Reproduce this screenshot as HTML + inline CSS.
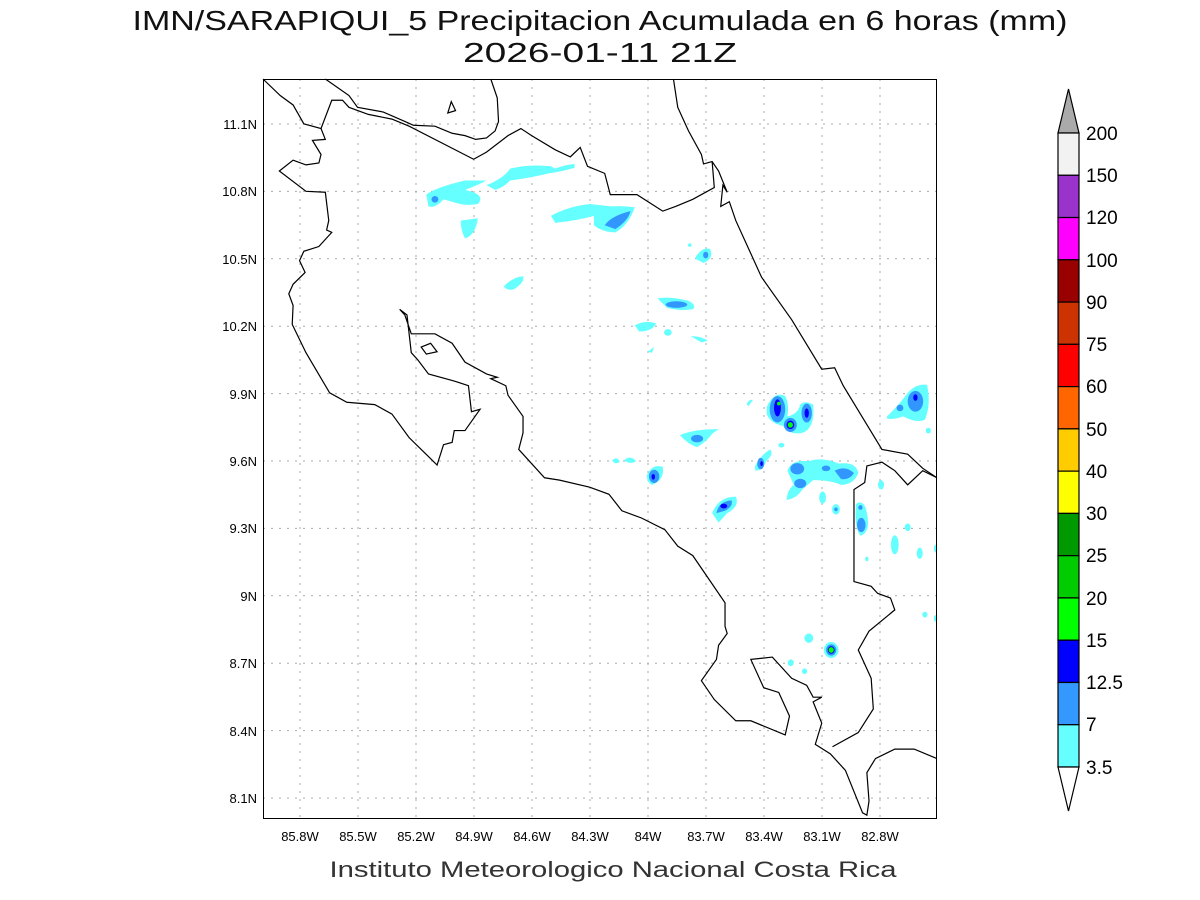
<!DOCTYPE html>
<html><head><style>html,body{margin:0;padding:0;background:#fff}svg{display:block}</style></head><body>
<svg width="1200" height="900" viewBox="0 0 1200 900" xmlns="http://www.w3.org/2000/svg" font-family="Liberation Sans, sans-serif">
<rect width="1200" height="900" fill="#fff"/>
<text x="600" y="30" font-size="28" text-anchor="middle" fill="#111" textLength="935" lengthAdjust="spacingAndGlyphs">IMN/SARAPIQUI_5 Precipitacion Acumulada en 6 horas (mm)</text>
<text x="600" y="62" font-size="28" text-anchor="middle" fill="#111" textLength="274" lengthAdjust="spacingAndGlyphs">2026-01-11 21Z</text>
<g stroke="#aaa" stroke-width="1" stroke-dasharray="2,6">
<path d="M300 79V819M358 79V819M416 79V819M474 79V819M532 79V819M590 79V819M648 79V819M706 79V819M764 79V819M822 79V819M880 79V819"/>
<path d="M263 124H937M263 191.4H937M263 258.8H937M263 326.2H937M263 393.6H937M263 461H937M263 528.4H937M263 595.8H937M263 663.2H937M263 730.6H937M263 798H937"/>
</g>
<g transform="translate(263,79) scale(0.4298,0.4719)">
<g fill="#66ffff">
<path d="M380 245 Q400 230 470 215 L520 215 Q500 225 470 235 Q520 245 500 265 Q470 270 440 260 L420 255 Q400 275 385 270 Z"/>
<path d="M520 225 Q560 210 575 190 Q620 180 670 185 L680 190 Q700 182 725 180 L725 188 Q700 195 665 200 Q620 210 575 215 Q560 230 540 235 Z"/>
<path d="M460 300 L500 295 Q495 330 470 338 Q460 320 460 300Z"/>
<path d="M670 290 Q710 270 760 265 L810 270 Q840 268 865 272 Q850 310 820 325 Q790 325 770 310 L770 290 Q730 300 680 305 Z"/>
<path d="M560 440 Q580 420 605 418 Q610 430 585 445 Q570 450 560 440Z"/>
<path d="M1005 380 Q1020 355 1040 360 Q1050 380 1025 390 Z"/><circle cx="993" cy="352" r="4"/>
<path d="M918 465 Q945 460 990 470 Q1010 480 1000 488 Q970 492 940 485 Z"/>
<path d="M865 522 Q890 510 915 518 Q905 535 875 535 Z"/>
<ellipse cx="942" cy="537" rx="9" ry="7"/>
<path d="M995 545 Q1020 545 1035 555 L1020 558 Z"/>
<path d="M895 578 L910 568 L905 580 Z"/>
<path d="M970 755 Q1000 742 1060 742 L1045 752 Q1030 770 1010 780 Q990 775 970 755Z"/>
<path d="M812 808 Q825 798 830 812 Q818 818 812 808Z"/>
<path d="M840 808 Q855 796 868 810 Q855 818 840 808Z"/>
<path d="M893 840 Q905 815 930 822 Q935 850 905 860 Q893 855 893 840Z"/>
<path d="M1045 920 Q1060 885 1100 885 Q1110 905 1080 920 L1060 940 Z"/>
<path d="M1125 690 Q1130 678 1140 680 L1130 693Z"/>
<path d="M1172 695 Q1190 660 1215 672 Q1225 690 1220 715 Q1245 710 1250 690 Q1260 680 1280 690 Q1285 740 1255 750 Q1225 755 1210 735 Q1180 730 1172 710Z"/>
<path d="M1145 820 Q1160 795 1180 785 Q1190 795 1170 810 Q1165 830 1145 830Z"/>
<ellipse cx="1206" cy="776" rx="7" ry="5"/>
<path d="M1220 830 Q1230 805 1270 810 Q1300 800 1340 815 Q1380 810 1385 835 Q1375 860 1345 860 Q1320 850 1280 850 L1255 870 Q1240 890 1218 892 Q1220 870 1235 860 Z"/>
<ellipse cx="1302" cy="887" rx="8" ry="13"/><ellipse cx="1333" cy="912" rx="9" ry="11"/>
<path d="M1380 900 Q1400 890 1405 920 Q1415 960 1390 968 Q1375 950 1380 900Z"/>
<ellipse cx="1438" cy="860" rx="7" ry="10"/><ellipse cx="1500" cy="950" rx="7" ry="8"/>
<ellipse cx="1470" cy="987" rx="9" ry="20"/><ellipse cx="1528" cy="1005" rx="7" ry="12"/><ellipse cx="1565" cy="995" rx="4" ry="8"/><ellipse cx="1405" cy="1017" rx="4" ry="5"/>
<path d="M1452 715 Q1480 690 1500 665 Q1520 645 1545 648 Q1555 690 1540 722 Q1520 730 1490 715 Q1470 722 1452 720Z"/>
<ellipse cx="1548" cy="745" rx="6" ry="6"/><ellipse cx="1540" cy="1135" rx="6" ry="6"/><ellipse cx="1565" cy="1143" rx="4" ry="7"/>
<ellipse cx="1270" cy="1185" rx="10" ry="10"/><ellipse cx="1228" cy="1237" rx="7" ry="7"/><ellipse cx="1260" cy="1255" rx="6" ry="6"/>
<circle cx="1322" cy="1210" r="17"/>
</g>
<g fill="#3296ff">
<ellipse cx="400" cy="255" rx="8" ry="7"/>
<path d="M795 310 Q810 290 855 280 Q850 300 820 318 Z"/>
<ellipse cx="1030" cy="373" rx="6" ry="7"/>
<ellipse cx="962" cy="478" rx="25" ry="7"/>
<ellipse cx="1010" cy="762" rx="14" ry="8"/>
<ellipse cx="910" cy="842" rx="12" ry="14"/>
<path d="M1055 920 Q1060 895 1090 893 Q1095 905 1075 915 Z"/>
<ellipse cx="1197" cy="700" rx="18" ry="28"/>
<circle cx="1227" cy="733" r="15"/>
<ellipse cx="1265" cy="708" rx="12" ry="20"/>
<ellipse cx="1158" cy="815" rx="8" ry="12"/>
<ellipse cx="1243" cy="826" rx="16" ry="12"/><ellipse cx="1250" cy="857" rx="14" ry="10"/>
<ellipse cx="1310" cy="825" rx="10" ry="6"/><path d="M1330 830 Q1355 818 1375 835 Q1365 850 1345 848Z"/>
<ellipse cx="1392" cy="945" rx="10" ry="15"/><ellipse cx="1390" cy="908" rx="5" ry="5"/>
<ellipse cx="1333" cy="912" rx="4" ry="4"/>
<ellipse cx="1518" cy="683" rx="18" ry="22"/><ellipse cx="1482" cy="697" rx="8" ry="7"/>
<circle cx="1322" cy="1210" r="12"/>
</g>
<g fill="#0000ff">
<ellipse cx="1197" cy="697" rx="8" ry="18"/><circle cx="1227" cy="733" r="9"/><ellipse cx="1265" cy="708" rx="5" ry="10"/>
<ellipse cx="1072" cy="905" rx="8" ry="5"/><ellipse cx="908" cy="843" rx="4" ry="6"/><ellipse cx="1160" cy="815" rx="3" ry="5"/>
<ellipse cx="1518" cy="675" rx="5" ry="7"/><circle cx="1322" cy="1210" r="8"/>
</g>
<g fill="#00ff00"><circle cx="1200" cy="688" r="4"/><circle cx="1227" cy="733" r="6"/><circle cx="1322" cy="1210" r="6"/></g>
<g fill="none" stroke="#000" stroke-width="1.2">
<path vector-effect="non-scaling-stroke" d="M0 0 L40 35 L70 55 L95 95 L135 105 L145 128 L115 130 L135 160 L130 178 L100 182 L70 172 L38 195 L100 238 L145 240 L153 300 L148 320 L160 325 L130 355 L95 365 L85 385 L98 410 L70 435 L60 455 L70 480 L68 520 L100 580 L155 665 L195 685 L260 690 L300 710 L340 760 L385 800 L405 818 L420 775 L440 770 L445 745 L470 745 L505 700 L485 705 L478 650 L445 640 L385 625 L360 595 L345 580 L335 500 L318 488 L330 500 L345 540 L360 540 L400 540 L440 560 L470 600 L520 625 L545 632 L530 635 L565 650 L570 670 L605 715 L605 750 L595 785 L655 845 L690 850 L760 865 L805 880 L835 915 L880 930 L935 955 L965 990 L1000 1010 L1030 1050 L1075 1110 L1075 1160 L1080 1175 L1060 1200 L1055 1230 L1020 1275 L1050 1315 L1100 1360 L1135 1360 L1215 1390 L1225 1350 L1200 1300 L1165 1290 L1135 1230 L1185 1225 L1230 1270 L1265 1285 L1280 1310 L1300 1310 L1280 1320 L1300 1365 L1285 1410 L1320 1430 L1355 1465 L1395 1555 L1405 1560 L1410 1530 L1405 1470 L1425 1440 L1470 1420 L1515 1420 L1568 1440"/>
<path vector-effect="non-scaling-stroke" d="M1325 1415 L1385 1385 L1420 1335 L1415 1270 L1385 1210 L1410 1170 L1470 1125 L1460 1100 L1430 1090 L1415 1075 L1375 1065 L1375 870 L1400 855 L1405 820 L1440 812 L1470 830 L1500 860 L1535 830 L1568 845"/>
<path vector-effect="non-scaling-stroke" d="M955 0 L965 60 L990 110 L1020 160 L1025 180 L1045 175 L1060 195 L1080 240 L1070 225 L1065 270 L1085 260 L1100 300 L1130 360 L1160 420 L1230 510 L1300 615 L1330 612 L1350 650 L1410 740 L1440 785 L1500 795 L1535 825 L1568 845"/>
<path vector-effect="non-scaling-stroke" d="M135 105 L160 45 L185 45 L200 60 L245 75 L300 85 L340 100 L490 170 L520 155 L570 120 L600 105 L625 120 L680 150 L715 165 L738 145 L755 185 L795 200 L808 245 L870 245 L930 280 L960 270 L1000 255 L1050 230 L1045 175"/>
<path vector-effect="non-scaling-stroke" d="M145 0 L200 35 L220 60 L280 70 L330 90 L350 98 L400 100 L440 115 L470 120 L495 128 L520 125 L540 110 L548 90 L545 40 L530 0"/>
<path vector-effect="non-scaling-stroke" d="M430 72 L438 48 L448 67 Z"/>
<path vector-effect="non-scaling-stroke" d="M368 568 L390 560 L405 578 L380 583 Z"/>
</g>
</g>
<rect x="263.5" y="79.5" width="673" height="739" fill="none" stroke="#000" stroke-width="1"/>
<g font-size="13" text-anchor="end">
<text x="257" y="129">11.1N</text><text x="257" y="196">10.8N</text><text x="257" y="264">10.5N</text><text x="257" y="331">10.2N</text><text x="257" y="399">9.9N</text><text x="257" y="466">9.6N</text><text x="257" y="533">9.3N</text><text x="257" y="601">9N</text><text x="257" y="668">8.7N</text><text x="257" y="736">8.4N</text><text x="257" y="803">8.1N</text>
</g>
<g font-size="13" text-anchor="middle">
<text x="300" y="841">85.8W</text><text x="358" y="841">85.5W</text><text x="416" y="841">85.2W</text><text x="474" y="841">84.9W</text><text x="532" y="841">84.6W</text><text x="590" y="841">84.3W</text><text x="648" y="841">84W</text><text x="706" y="841">83.7W</text><text x="764" y="841">83.4W</text><text x="822" y="841">83.1W</text><text x="880" y="841">82.8W</text>
</g>
<text x="613" y="877" font-size="22" text-anchor="middle" fill="#333" textLength="567" lengthAdjust="spacingAndGlyphs">Instituto Meteorologico Nacional Costa Rica</text>
<g stroke="#000" stroke-width="1.2">
<path d="M1058 133 L1068.5 89 L1079 133 Z" fill="#aaaaaa"/>
<rect x="1058" y="133" width="21" height="42.27" fill="#f2f2f2"/>
<rect x="1058" y="175.27" width="21" height="42.27" fill="#9933cc"/>
<rect x="1058" y="217.53" width="21" height="42.27" fill="#ff00ff"/>
<rect x="1058" y="259.8" width="21" height="42.27" fill="#990000"/>
<rect x="1058" y="302.07" width="21" height="42.27" fill="#cc3300"/>
<rect x="1058" y="344.33" width="21" height="42.27" fill="#ff0000"/>
<rect x="1058" y="386.6" width="21" height="42.27" fill="#ff6600"/>
<rect x="1058" y="428.87" width="21" height="42.27" fill="#ffcc00"/>
<rect x="1058" y="471.13" width="21" height="42.27" fill="#ffff00"/>
<rect x="1058" y="513.4" width="21" height="42.27" fill="#009900"/>
<rect x="1058" y="555.67" width="21" height="42.27" fill="#00cc00"/>
<rect x="1058" y="597.93" width="21" height="42.27" fill="#00ff00"/>
<rect x="1058" y="640.2" width="21" height="42.27" fill="#0000ff"/>
<rect x="1058" y="682.47" width="21" height="42.27" fill="#3399ff"/>
<rect x="1058" y="724.73" width="21" height="42.27" fill="#66ffff"/>
<path d="M1058 767 L1068.5 811 L1079 767 Z" fill="#fff"/>
</g>
<g font-size="19">
<text x="1086" y="140">200</text><text x="1086" y="182">150</text><text x="1086" y="224">120</text><text x="1086" y="267">100</text><text x="1086" y="309">90</text><text x="1086" y="351">75</text><text x="1086" y="393">60</text><text x="1086" y="436">50</text><text x="1086" y="478">40</text><text x="1086" y="520">30</text><text x="1086" y="562">25</text><text x="1086" y="605">20</text><text x="1086" y="647">15</text><text x="1086" y="689">12.5</text><text x="1086" y="731">7</text><text x="1086" y="774">3.5</text>
</g>
</svg>
</body></html>
